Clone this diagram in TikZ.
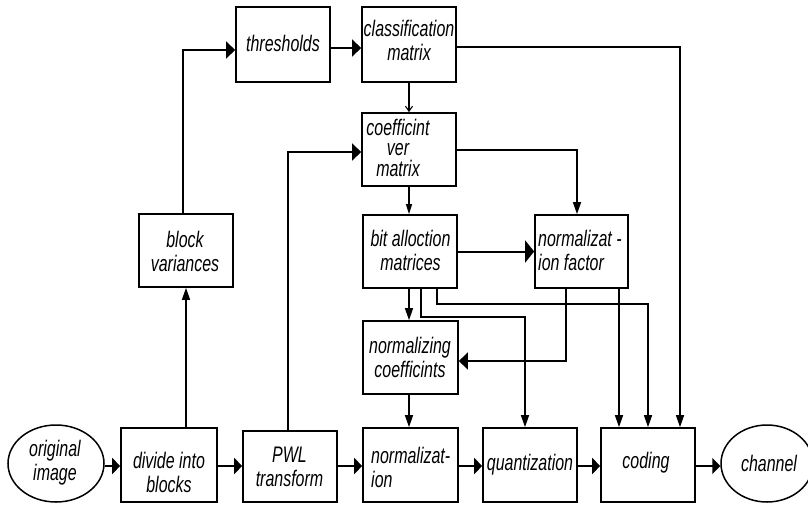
\documentclass[tikz,border=0pt]{standalone}
\usepackage{fontspec}
\newfontfamily\lab[FakeStretch=0.71]{Liberation Sans}
\usetikzlibrary{arrows.meta,fit,calc,shapes.geometric}
\begin{document}
\begin{tikzpicture}[x=1pt,y=-1pt,
  box/.style={draw,line width=1.7pt,inner sep=0pt,rectangle},
  oval/.style={draw,line width=1.5pt,ellipse,inner sep=0pt},
  txt/.style={inner sep=0pt,font=\fontsize{22.5}{24}\lab\itshape,align=center},
  conn/.style={line width=1.5pt},
  mainarr/.style={line width=2.4pt,-{Triangle[length=8pt,width=16pt]}},
  harr/.style={conn,-{Triangle[length=9pt,width=17pt]}},
  varr/.style={conn,-{Triangle[length=12pt,width=8pt]}},
  sarr/.style={line width=1.1pt,-{Straight Barb[length=5pt,width=7pt]}},
  tarr/.style={line width=1.2pt,-{Triangle[length=10pt,width=6pt]}}]
\useasboundingbox[fill=white] (0,0) rectangle (808,504);

% boxes
\node[box,fit={(236,7) (330,82)}] (thr) {};
\node[box,fit={(362,7) (456,82)}] (cls) {};
\node[box,fit={(362,113) (456,186)}] (cvm) {};
\node[box,fit={(139,214) (233,287)}] (bv) {};
\node[box,fit={(363,215) (457,288)}] (bam) {};
\node[box,fit={(535,215) (628,288)}] (nf) {};
\node[box,fit={(363,321) (458,394)}] (nc) {};
\node[box,fit={(121,428) (217,502)}] (div) {};
\node[box,fit={(243,431) (337,502)}] (pwl) {};
\node[box,fit={(363,428) (458,502)}] (norm) {};
\node[box,fit={(483,428) (577,502)}] (quant) {};
\node[box,fit={(601,428) (695,502)}] (coding) {};
\node[oval,minimum width=96pt,minimum height=77pt] (orig) at (56,463.5) {};
\node[oval,minimum width=92pt,minimum height=77pt] (chan) at (767,463.5) {};

% texts
\node[txt] (tthr) at (283,43) {thresholds};
\node[txt] (tcls) at (409,40) {classification\\matrix};
\node[txt,font=\fontsize{22.5}{20.5}\lab\itshape] (tcvm) at (398,147.5) {coefficint\\ver\\matrix};
\node[txt] (tbv) at (185,251) {block\\variances};
\node[txt] (tbam) at (410.5,250) {bit alloction\\matrices};
\node[txt,align=left,anchor=west] (tnf) at (538,250.5) {normalizat -\\ion factor};
\node[txt] (tnc) at (410,357.5) {normalizing\\coefficints};
\node[txt] (torig) at (55,463) {original\\image};
\node[txt] (tdiv) at (169,472) {divide into\\blocks};
\node[txt] (tpwl) at (289.5,467) {PWL\\transform};
\node[txt,align=left,anchor=west] (tnorm) at (371,467) {normalizat-\\ion};
\node[txt] (tquant) at (530,465) {quantization};
\node[txt] (tcod) at (646,463) {coding};
\node[txt] (tchan) at (769,463) {channel};

% helper coordinates
\coordinate (row) at (0,466);
\coordinate (xl) at (183,50);
\coordinate (xp) at (288,152);
\coordinate (xa) at (409,0);
\coordinate (b2) at (421,317);
\coordinate (q2) at (525,317);
\coordinate (b3) at (437,304);
\coordinate (c2) at (648,304);
\coordinate (c3) at (680,47);
\coordinate (n1) at (577,150);
\coordinate (f1) at (566,361);
\coordinate (f2) at (619,0);

% main row
\draw[mainarr] (orig.east |- row) -- (div.west |- row);
\draw[mainarr] (div.east |- row) -- (pwl.west |- row);
\draw[mainarr] (pwl.east |- row) -- (norm.west |- row);
\draw[mainarr] (norm.east |- row) -- (quant.west |- row);
\draw[mainarr] (quant.east |- row) -- (coding.west |- row);
\draw[mainarr] (coding.east |- row) -- (chan.west |- row);

% branches
\draw[varr] (div.north -| bv.south) -- (bv.south);
\draw[harr] (bv.north -| xl) -- (xl) -- (thr.west |- xl);
\draw[harr] ($(thr.east)+(0,3.5)$) -- ($(cls.west)+(0,3.5)$);
\draw[varr] (cls.east |- c3) -- (c3) -- (c3 |- coding.north);
\draw[sarr] (cls.south -| xa) -- (cvm.north -| xa);
\draw[harr] (pwl.north -| xp) -- (xp) -- (cvm.west |- xp);
\draw[varr] (cvm.east |- n1) -- (n1) -- (n1 |- nf.north);
\draw[tarr] (cvm.south -| xa) -- (bam.north -| xa);
\draw[line width=2pt,-{Triangle[length=9pt,width=22pt]}] (bam.east) -- (nf.west);
\draw[varr] (bam.south -| xa) -- (nc.north -| xa);
\draw[varr] (bam.south -| b2) -- (b2) -- (q2) -- (q2 |- quant.north);
\draw[varr] (bam.south -| b3) -- (b3) -- (c2) -- (c2 |- coding.north);
\draw[harr] (nf.south -| f1) -- (f1) -- (nc.east |- f1);
\draw[varr] (nf.south -| f2) -- (coding.north -| f2);
\draw[varr] (nc.south -| xa) -- (norm.north -| xa);
\end{tikzpicture}
\end{document}
